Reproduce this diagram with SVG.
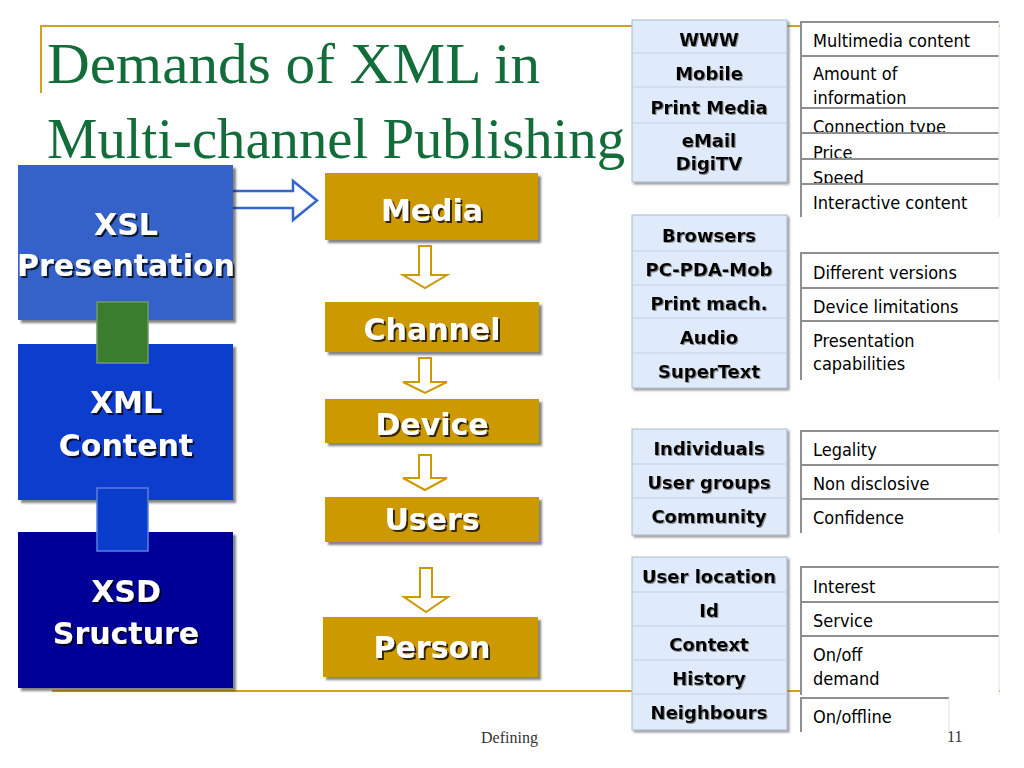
<svg xmlns="http://www.w3.org/2000/svg" width="1024" height="768" viewBox="0 0 1024 768">
<defs>
<filter id="ts" x="-10%" y="-30%" width="130%" height="160%"><feDropShadow dx="2" dy="2" stdDeviation="0.6" flood-color="#000" flood-opacity="0.75"/></filter>
<filter id="gs" x="-10%" y="-30%" width="130%" height="160%"><feDropShadow dx="1" dy="1" stdDeviation="0.5" flood-color="#777" flood-opacity="0.8"/></filter>
<filter id="bs" x="-5%" y="-5%" width="115%" height="115%"><feDropShadow dx="3" dy="3" stdDeviation="1" flood-color="#222" flood-opacity="0.55"/></filter>
<filter id="ls" x="-5%" y="-5%" width="115%" height="115%"><feDropShadow dx="2" dy="2" stdDeviation="0.8" flood-color="#555" flood-opacity="0.6"/></filter>
</defs>
<style>
.frame{stroke:#d2a21e;stroke-width:2;fill:none}
.title{font-family:"Liberation Serif","Times New Roman",serif;font-size:56px;fill:#136d3a}
.big{font-family:"DejaVu Sans",Verdana,sans-serif;font-weight:bold;font-size:30px;fill:#fff;text-anchor:middle;filter:url(#ts)}
.gold{fill:#cc9900;filter:url(#bs)}
.harrow{fill:#fff;stroke:#cc9900;stroke-width:2;stroke-linejoin:miter}
.lt{fill:#dfeafa;stroke:#aeb9cb;stroke-width:1;filter:url(#ls)}
.sep{stroke:#c3cee0;stroke-width:1}
.bl{font-family:"DejaVu Sans",Verdana,sans-serif;font-weight:bold;font-size:18px;fill:#000;text-anchor:middle;filter:url(#gs)}
.cell{fill:#fff}
.rl{stroke:#8f8f8f;stroke-width:2}
.rr{stroke:#e2e2e2;stroke-width:1}
.rt{font-family:"DejaVu Sans Condensed","DejaVu Sans",Tahoma,sans-serif;font-size:18px;fill:#000}
.foot{font-family:"Liberation Serif","Times New Roman",serif;font-size:16px;fill:#333}
</style>

<g id="frame">
<line class="frame" x1="41" y1="26" x2="1000" y2="26"/>
<line class="frame" x1="41" y1="25" x2="41" y2="93"/>
<line class="frame" x1="52" y1="691" x2="1000" y2="691"/>
</g>

<g id="title">
<text class="title" x="47" y="83" textLength="493" lengthAdjust="spacingAndGlyphs">Demands of XML in</text>
<text class="title" x="47" y="158" textLength="578" lengthAdjust="spacingAndGlyphs">Multi-channel Publishing</text>
</g>

<g id="connectors">
<path d="M233,191 H293 V181 L317,200.5 L293,220 V208 H233" fill="#fff" stroke="#3366cc" stroke-width="2.5"/>
<path class="harrow" d="M419,246 H431 V275 H447 L425,288 L403,275 H419 Z"/>
<path class="harrow" d="M419,358 H431 V382 H447 L425,393 L403,382 H419 Z"/>
<path class="harrow" d="M419,455 H431 V478 H447 L425,490 L403,478 H419 Z"/>
<path class="harrow" d="M420,568 H432 V597 H448 L426,612 L404,597 H420 Z"/>
</g>

<g id="xsl">
<rect x="18" y="165" width="215" height="155" fill="#3462c8" filter="url(#bs)"/>
<text class="big" x="126" y="235">XSL</text>
<text class="big" x="126" y="276">Presentation</text>
</g>
<g id="xml">
<rect x="18" y="344" width="215" height="156" fill="#0b3dcc" filter="url(#bs)"/>
<text class="big" x="126" y="413">XML</text>
<text class="big" x="126" y="456">Content</text>
</g>
<g id="link-green">
<rect x="97" y="302" width="51" height="61" fill="#3a7d2f" stroke="#6f9a63" stroke-width="1.5"/>
</g>
<g id="xsd">
<rect x="18" y="532" width="215" height="156" fill="#000099" filter="url(#bs)"/>
<text class="big" x="126" y="602">XSD</text>
<text class="big" x="126" y="644">Sructure</text>
</g>
<g id="link-blue">
<rect x="97" y="488" width="51" height="63" fill="#0b3dcc" stroke="#5a7fe0" stroke-width="1.5"/>
</g>

<g id="media"><rect class="gold" x="325" y="173" width="213" height="67"/><text class="big" x="432" y="221">Media</text></g>
<g id="channel"><rect class="gold" x="325" y="302" width="214" height="50"/><text class="big" x="432" y="340">Channel</text></g>
<g id="device"><rect class="gold" x="325" y="399" width="214" height="44"/><text class="big" x="432" y="435">Device</text></g>
<g id="users"><rect class="gold" x="325" y="497" width="214" height="45"/><text class="big" x="432" y="530">Users</text></g>
<g id="person"><rect class="gold" x="323" y="617" width="215" height="60"/><text class="big" x="432" y="658">Person</text></g>

<g id="media-list">
<rect class="lt" x="632" y="20" width="155" height="162"/>
<line class="sep" x1="633" y1="53" x2="786" y2="53"/>
<line class="sep" x1="633" y1="87" x2="786" y2="87"/>
<line class="sep" x1="633" y1="123" x2="786" y2="123"/>
<text class="bl" x="709" y="46">WWW</text>
<text class="bl" x="709" y="80">Mobile</text>
<text class="bl" x="709" y="114">Print Media</text>
<text class="bl" x="709" y="147">eMail</text>
<text class="bl" x="709" y="170">DigiTV</text>
</g>
<g id="media-demands">
<rect class="cell" x="801" y="22" width="198" height="34"/>
<text class="rt" x="813" y="47">Multimedia content</text>
<rect class="cell" x="801" y="56" width="198" height="52"/>
<text class="rt" x="813" y="80">Amount of</text>
<text class="rt" x="813" y="104">information</text>
<rect class="cell" x="801" y="108" width="198" height="25"/>
<text class="rt" x="813" y="133">Connection type</text>
<rect class="cell" x="801" y="133" width="198" height="26"/>
<text class="rt" x="813" y="159">Price</text>
<rect class="cell" x="801" y="159" width="198" height="25"/>
<text class="rt" x="813" y="184">Speed</text>
<rect class="cell" x="801" y="184" width="198" height="33"/>
<text class="rt" x="813" y="209">Interactive content</text>
<line class="rl" x1="801" y1="22" x2="999" y2="22"/>
<line class="rl" x1="801" y1="56" x2="999" y2="56"/>
<line class="rl" x1="801" y1="108" x2="999" y2="108"/>
<line class="rl" x1="801" y1="133" x2="999" y2="133"/>
<line class="rl" x1="801" y1="159" x2="999" y2="159"/>
<line class="rl" x1="801" y1="184" x2="999" y2="184"/>
<line class="rl" x1="801" y1="21" x2="801" y2="217"/>
<line class="rr" x1="999" y1="22" x2="999" y2="217"/>
</g>

<g id="device-list">
<rect class="lt" x="632" y="215" width="155" height="173"/>
<line class="sep" x1="633" y1="251" x2="786" y2="251"/>
<line class="sep" x1="633" y1="285" x2="786" y2="285"/>
<line class="sep" x1="633" y1="318" x2="786" y2="318"/>
<line class="sep" x1="633" y1="353" x2="786" y2="353"/>
<text class="bl" x="709" y="242">Browsers</text>
<text class="bl" x="709" y="276">PC-PDA-Mob</text>
<text class="bl" x="709" y="310">Print mach.</text>
<text class="bl" x="709" y="344">Audio</text>
<text class="bl" x="709" y="378">SuperText</text>
</g>
<g id="device-demands">
<rect class="cell" x="801" y="253" width="198" height="127"/>
<text class="rt" x="813" y="279">Different versions</text>
<text class="rt" x="813" y="313">Device limitations</text>
<text class="rt" x="813" y="347">Presentation</text>
<text class="rt" x="813" y="370">capabilities</text>
<line class="rl" x1="801" y1="253" x2="999" y2="253"/>
<line class="rl" x1="801" y1="288" x2="999" y2="288"/>
<line class="rl" x1="801" y1="321" x2="999" y2="321"/>
<line class="rl" x1="801" y1="252" x2="801" y2="380"/>
<line class="rr" x1="999" y1="253" x2="999" y2="380"/>
</g>

<g id="user-list">
<rect class="lt" x="632" y="429" width="155" height="106"/>
<line class="sep" x1="633" y1="464" x2="786" y2="464"/>
<line class="sep" x1="633" y1="498" x2="786" y2="498"/>
<text class="bl" x="709" y="455">Individuals</text>
<text class="bl" x="709" y="489">User groups</text>
<text class="bl" x="709" y="523">Community</text>
</g>
<g id="user-demands">
<rect class="cell" x="801" y="431" width="198" height="102"/>
<text class="rt" x="813" y="456">Legality</text>
<text class="rt" x="813" y="490">Non disclosive</text>
<text class="rt" x="813" y="524">Confidence</text>
<line class="rl" x1="801" y1="431" x2="999" y2="431"/>
<line class="rl" x1="801" y1="465" x2="999" y2="465"/>
<line class="rl" x1="801" y1="499" x2="999" y2="499"/>
<line class="rl" x1="801" y1="430" x2="801" y2="533"/>
<line class="rr" x1="999" y1="431" x2="999" y2="533"/>
</g>

<g id="person-list">
<rect class="lt" x="632" y="557" width="155" height="173"/>
<line class="sep" x1="633" y1="592" x2="786" y2="592"/>
<line class="sep" x1="633" y1="626" x2="786" y2="626"/>
<line class="sep" x1="633" y1="660" x2="786" y2="660"/>
<line class="sep" x1="633" y1="694" x2="786" y2="694"/>
<text class="bl" x="709" y="583">User location</text>
<text class="bl" x="709" y="617">Id</text>
<text class="bl" x="709" y="651">Context</text>
<text class="bl" x="709" y="685">History</text>
<text class="bl" x="709" y="719">Neighbours</text>
</g>
<g id="person-demands">
<rect class="cell" x="801" y="567" width="198" height="128"/>
<text class="rt" x="813" y="593">Interest</text>
<text class="rt" x="813" y="627">Service</text>
<text class="rt" x="813" y="661">On/off</text>
<text class="rt" x="813" y="685">demand</text>
<line class="rl" x1="801" y1="567" x2="999" y2="567"/>
<line class="rl" x1="801" y1="602" x2="999" y2="602"/>
<line class="rl" x1="801" y1="636" x2="999" y2="636"/>
<line class="rl" x1="801" y1="566" x2="801" y2="695"/>
<line class="rr" x1="999" y1="567" x2="999" y2="695"/>
<rect class="cell" x="801" y="698" width="148" height="34"/>
<text class="rt" x="813" y="723">On/offline</text>
<line class="rl" x1="801" y1="698" x2="949" y2="698"/>
<line class="rl" x1="801" y1="697" x2="801" y2="732"/>
<line class="rr" x1="949" y1="698" x2="949" y2="732"/>
</g>

<g id="footer">
<text class="foot" x="481" y="743">Defining</text>
<text class="foot" x="947" y="742">11</text>
</g>
</svg>
